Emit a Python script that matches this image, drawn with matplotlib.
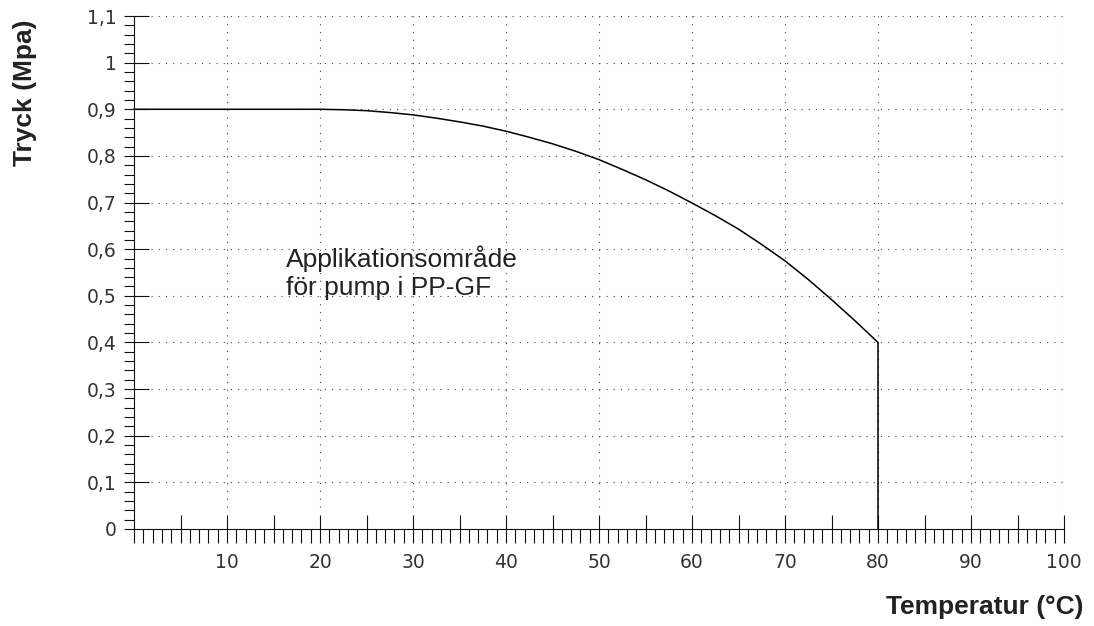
import matplotlib
matplotlib.use("Agg")
import matplotlib.pyplot as plt
from matplotlib.ticker import FixedLocator, MultipleLocator

# pressure limit curve
temperature = [0, 20, 22.5, 25, 27.5, 30, 32.5, 35, 37.5, 40, 42.5, 45, 47.5,
               50, 52.5, 55, 57.5, 60, 62.5, 65, 67.5, 70, 72.5, 75, 77.5,
               80, 80]
pressure    = [0.9, 0.9, 0.899, 0.897, 0.893, 0.888, 0.881, 0.873, 0.864,
               0.853, 0.840, 0.826, 0.810, 0.792, 0.771, 0.749, 0.725,
               0.699, 0.672, 0.643, 0.610, 0.575, 0.535, 0.492, 0.447,
               0.40, 0.0]

x_major     = list(range(0, 101, 5))
x_labels    = [str(v) if v % 10 == 0 and v > 0 else '' for v in x_major]
y_major     = [i / 10 for i in range(0, 12)]
y_labels    = ['0', '0,1', '0,2', '0,3', '0,4', '0,5', '0,6', '0,7', '0,8',
               '0,9', '1', '1,1']
x_grid      = list(range(10, 101, 10))
y_grid      = y_major[1:]

area_text   = 'Applikationsområde\nför pump i PP-GF'
x_title     = 'Temperatur (°C)'
y_title     = 'Tryck (Mpa)'

W, H = 1094, 626
fig = plt.figure(figsize=(W / 100, H / 100), dpi=100)
ax = fig.add_axes([134 / W, 1 - 529 / H, 930 / W, 513 / H])
ax.set_xlim(0, 100)
ax.set_ylim(0, 1.1)

for side in ('top', 'right'):
    ax.spines[side].set_visible(False)
for side in ('left', 'bottom'):
    ax.spines[side].set_linewidth(0.8)
    ax.spines[side].set_color('#111111')

# ticks
ax.xaxis.set_major_locator(FixedLocator(x_major))
ax.set_xticklabels(x_labels)
ax.xaxis.set_minor_locator(MultipleLocator(1))
ax.yaxis.set_major_locator(FixedLocator(y_major))
ax.set_yticklabels(y_labels)
ax.yaxis.set_minor_locator(MultipleLocator(0.02))

ax.tick_params(axis='x', which='both', direction='out', length=10, width=0.8,
               color='#111111', pad=7, labelsize=13.5, labelcolor='#333333')
ax.tick_params(axis='y', which='both', direction='out', length=7.5, width=0.8,
               color='#111111', pad=5, labelsize=13.5, labelcolor='#333333')
for lab in ax.get_xticklabels() + ax.get_yticklabels():
    lab.set_family('DejaVu Sans')

# inner parts of the major ticks
ax.vlines(x_major[1:], 0, 0.03, color='#111111', lw=0.8, clip_on=False)
ax.hlines(y_grid, 0, 1.6, color='#111111', lw=0.8, clip_on=False)

# dotted grid
ax.hlines(y_grid, 1.8, 100, color='#444444', lw=0.8, linestyles=(0, (1, 5.5)))
ax.vlines(x_grid, 0.047, 1.1, color='#444444', lw=0.8, linestyles=(0, (1, 6)))

# limit curve
ax.plot(temperature, pressure, color='black', lw=1.1, clip_on=False,
        solid_joinstyle='round')

ax.text(16.3, 0.55, area_text, fontsize=19, family='Liberation Sans',
        color='#222222', va='center', ha='left', linespacing=1.2)

fig.text(25 / W, 1 - 93 / H, y_title, rotation=90, ha='center', va='center',
         fontsize=19, fontweight='bold', family='Liberation Sans', color='#222222')
fig.text(1083 / W, 1 - 607 / H, x_title, ha='right', va='center',
         fontsize=19, fontweight='bold', family='Liberation Sans', color='#222222')

fig.savefig('out.png', dpi=100)
